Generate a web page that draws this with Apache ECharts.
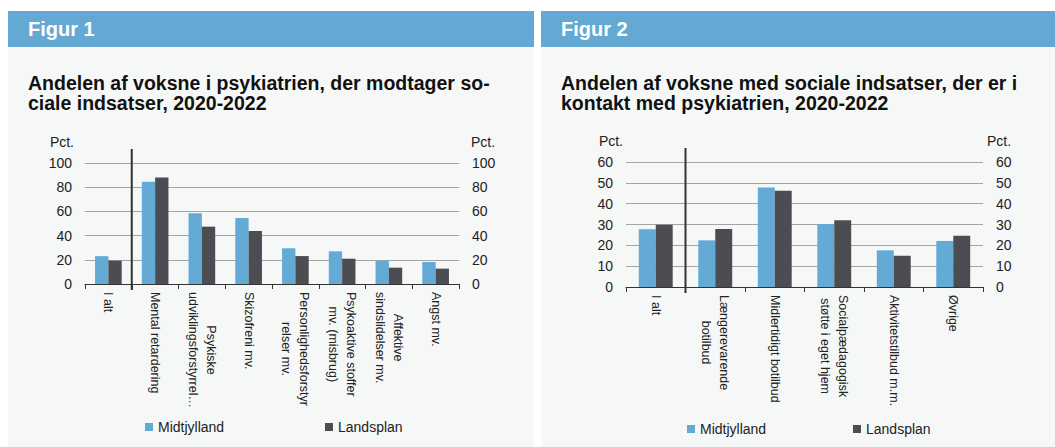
<!DOCTYPE html>
<html>
<head>
<meta charset="utf-8">
<script src="https://cdn.jsdelivr.net/npm/echarts@6/dist/echarts.min.js"></script>
<style>
  body { margin: 0; background: #fff; font-family: "Liberation Sans", Arial, sans-serif; }
  #page { position: relative; width: 1055px; height: 447px; overflow: hidden; }
  .panel { position: absolute; top: 11px; height: 436px; background: #f6f8f8; }
  .head { height: 36px; line-height: 37px; background: #63a9d4; color: #fff;
          font-weight: bold; font-size: 20px; padding-left: 20px; }
  .title { position: absolute; top: 62px; left: 20px; color: #111; white-space: nowrap;
           font-weight: bold; font-size: 19.5px; line-height: 20px; }
  #chart { position: absolute; left: 0; top: 0; width: 1055px; height: 447px; }
</style>
</head>
<body>
<div id="page">
  <div class="panel" style="left:8px;width:526px">
    <div class="head">Figur 1</div>
    <div class="title">Andelen af voksne i psykiatrien, der modtager so-<br>ciale indsatser, 2020-2022</div>
  </div>
  <div class="panel" style="left:541px;width:514px">
    <div class="head">Figur 2</div>
    <div class="title">Andelen af voksne med sociale indsatser, der er i<br>kontakt med psykiatrien, 2020-2022</div>
  </div>
  <div id="chart"></div>
</div>
<script>
// Figur 1
const cats1 = ['I alt', 'Mental retardering', 'Psykiske\nudviklingsforstyrrel…', 'Skizofreni mv.',
  'Personlighedsforstyr\nrelser mv.', 'Psykoaktive stoffer\nmv. (misbrug)', 'Affektive\nsindslidelser mv.', 'Angst mv.']
const midt1 = [23, 84.6, 58.4, 54.5, 29.5, 27, 19.3, 18.2]
const lands1 = [19.3, 88, 47.4, 43.8, 23.1, 20.9, 13.5, 12.7]
// Figur 2
const cats2 = ['I alt', 'Længerevarende\nbotilbud', 'Midlertidigt botilbud', 'Socialpædagogisk\nstøtte i eget hjem',
  'Aktivitetstilbud m.m.', 'Øvrige']
const midt2 = [27.7, 22.4, 47.8, 30.2, 17.6, 22.1]
const lands2 = [29.9, 27.8, 46.2, 32, 15, 24.6]

const BLUE = '#63aad5'
const DARK = '#4c4d52'
const FONT = '"Liberation Sans", Arial, sans-serif'

const chart = echarts.init(document.getElementById('chart'), null, { renderer: 'svg' })

function yAx (gridIndex, pos, max, interval, namePad) {
  return {
    type: 'value', gridIndex: gridIndex, position: pos, min: 0, max: max, interval: interval,
    name: 'Pct.', nameLocation: 'end', nameGap: 14,
    nameTextStyle: { color: '#222', fontSize: 14, fontFamily: FONT,
      align: pos === 'left' ? 'right' : 'left', padding: namePad },
    axisLine: { show: false }, axisTick: { show: false },
    axisLabel: { color: '#222', fontSize: 14, fontFamily: FONT, margin: 13 },
    splitLine: { show: pos === 'left', lineStyle: { color: '#a4a4a4', width: 1 } }
  }
}

function xAx (gridIndex, cats) {
  return {
    type: 'category', gridIndex: gridIndex, data: cats,
    axisLine: { lineStyle: { color: '#333', width: 1 } },
    axisTick: { show: true, length: 5, lineStyle: { color: '#333' } },
    axisLabel: {
      interval: 0, rotate: -90, margin: 8, color: '#222', fontFamily: FONT,
      formatter: v => v.split('\n').map(l => '{c|' + l + '}').join('\n'),
      rich: { c: { align: 'center', fontSize: 12.5, lineHeight: 18, color: '#222', fontFamily: FONT } }
    }
  }
}

function bar (name, xi, yi, data, color) {
  return { name: name, type: 'bar', xAxisIndex: xi, yAxisIndex: yi, data: data,
    barGap: 0, barCategoryGap: '43%', itemStyle: { color: color }, silent: true }
}

function leg (name, left, top) {
  return { data: [name], left: left, top: top, padding: 0, itemWidth: 8, itemHeight: 8, icon: 'rect',
    textStyle: { color: '#222', fontSize: 14, fontFamily: FONT } }
}

chart.setOption({
  animation: false,
  grid: [
    { left: 85, top: 163, width: 374, height: 121 },
    { left: 626, top: 162, width: 357, height: 125 }
  ],
  xAxis: [xAx(0, cats1), xAx(1, cats2)],
  yAxis: [
    yAx(0, 'left', 100, 20, [0, 11, 0, 0]),
    yAx(0, 'right', 100, 20, [0, 0, 0, 12]),
    yAx(1, 'left', 60, 10, [0, 3, 0, 0]),
    yAx(1, 'right', 60, 10, [0, 0, 0, 4])
  ],
  legend: [
    leg('Midtjylland', 145, 420), leg('Landsplan', 325, 420),
    leg('Midtjylland', 687, 422), leg('Landsplan', 853, 422)
  ],
  series: [
    bar('Midtjylland', 0, 0, midt1, BLUE),
    bar('Landsplan', 0, 0, lands1, DARK),
    bar('Midtjylland', 1, 2, midt2, BLUE),
    bar('Landsplan', 1, 2, lands2, DARK)
  ]
})

// skillelinje mellem "I alt" og resten
function divider (xi, yi, ymax) {
  const x = (chart.convertToPixel({ xAxisIndex: xi }, 0) + chart.convertToPixel({ xAxisIndex: xi }, 1)) / 2
  const yTop = chart.convertToPixel({ yAxisIndex: yi }, ymax) - 14
  const yBot = chart.convertToPixel({ yAxisIndex: yi }, 0) + 6
  return { type: 'line', shape: { x1: x, y1: yTop, x2: x, y2: yBot },
    style: { stroke: '#333', lineWidth: 2 }, z: 10 }
}
chart.setOption({ graphic: [divider(0, 0, 100), divider(1, 2, 60)] })
</script>
</body>
</html>
